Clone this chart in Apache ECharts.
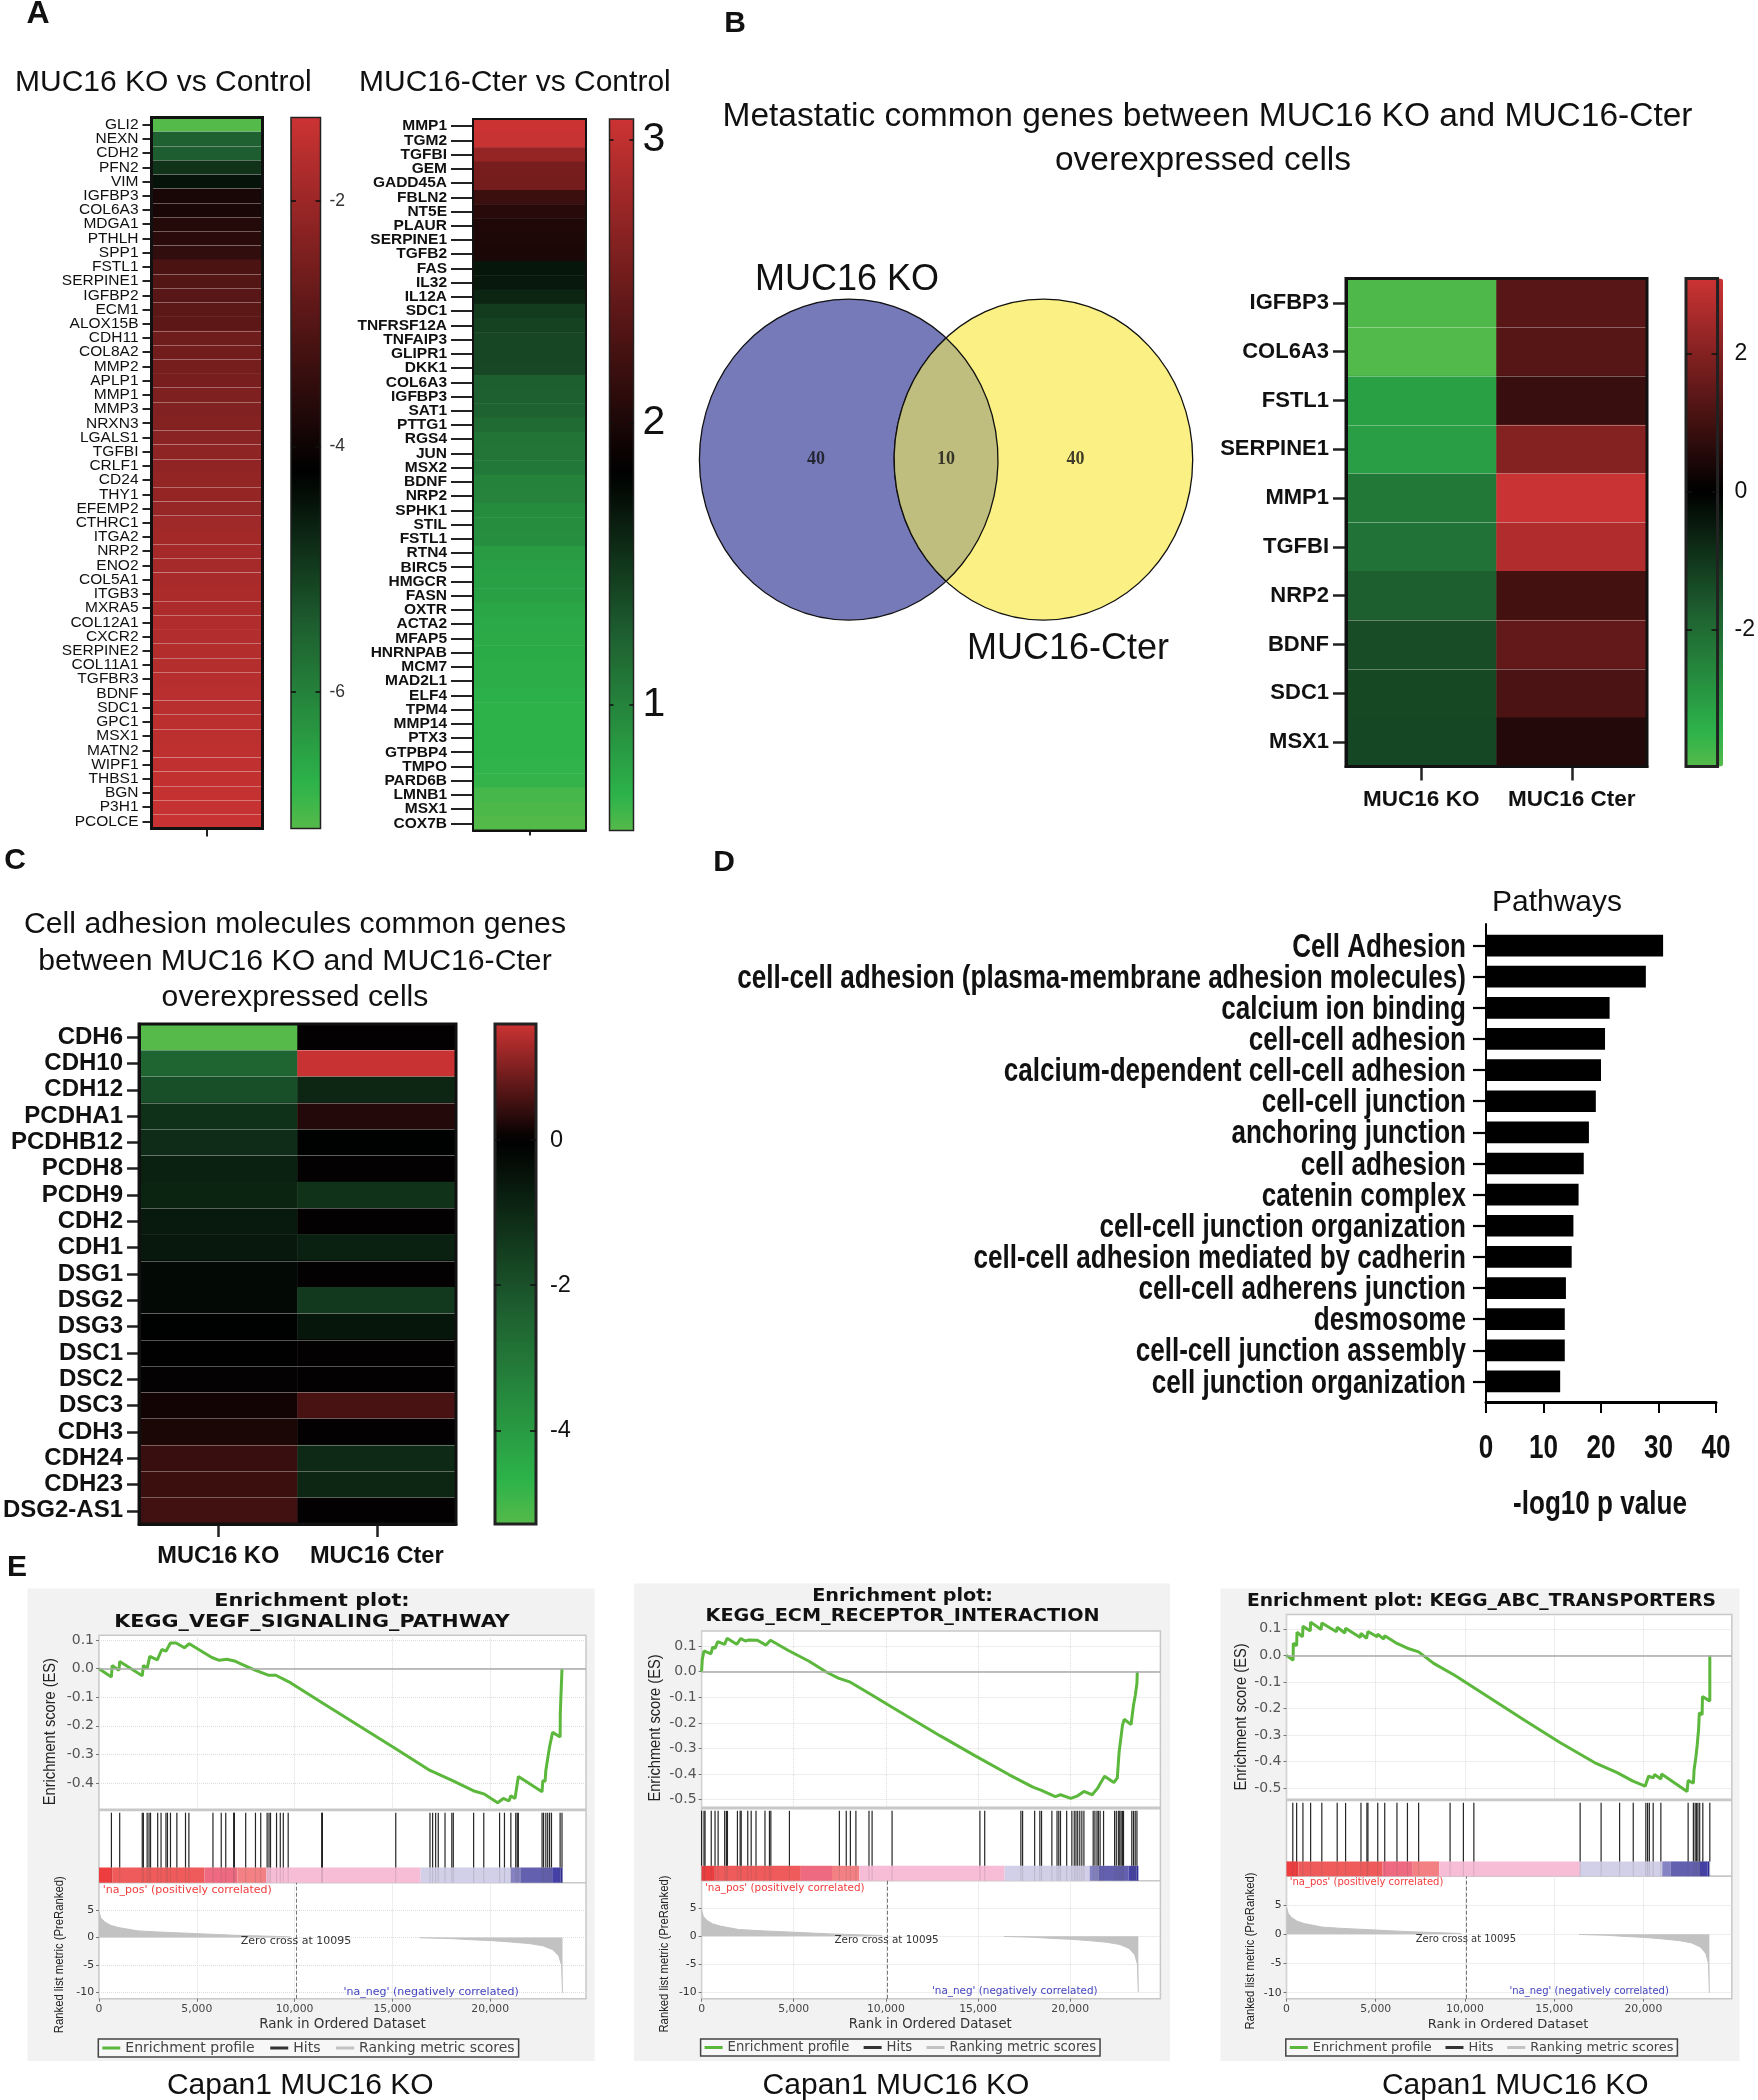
<!DOCTYPE html>
<html><head><meta charset="utf-8">
<style>html,body{margin:0;padding:0;background:#fff}#c{width:1758px;height:2100px}</style>
<script src="https://cdn.jsdelivr.net/npm/echarts@6/dist/echarts.min.js"></script>
</head><body><div id="c"></div>
<script>
// ---------- DATA ----------
const a1Genes=['GLI2','NEXN','CDH2','PFN2','VIM','IGFBP3','COL6A3','MDGA1','PTHLH','SPP1','FSTL1','SERPINE1','IGFBP2','ECM1','ALOX15B','CDH11','COL8A2','MMP2','APLP1','MMP1','MMP3','NRXN3','LGALS1','TGFBI','CRLF1','CD24','THY1','EFEMP2','CTHRC1','ITGA2','NRP2','ENO2','COL5A1','ITGB3','MXRA5','COL12A1','CXCR2','SERPINE2','COL11A1','TGFBR3','BDNF','SDC1','GPC1','MSX1','MATN2','WIPF1','THBS1','BGN','P3H1','PCOLCE'];
const a1Values=[-7.1,-5.5,-5.45,-4.88,-4.46,-3.85,-3.85,-3.7,-3.6,-3.5,-3.13,-3.02,-2.96,-2.9,-2.88,-2.64,-2.59,-2.53,-2.5,-2.41,-2.36,-2.33,-2.24,-2.18,-2.16,-2.13,-2.1,-2.07,-1.95,-1.9,-1.87,-1.84,-1.81,-1.78,-1.75,-1.69,-1.68,-1.67,-1.64,-1.61,-1.59,-1.58,-1.56,-1.55,-1.52,-1.49,-1.46,-1.44,-1.41,-1.38];
const a2Genes=['MMP1','TGM2','TGFBI','GEM','GADD45A','FBLN2','NT5E','PLAUR','SERPINE1','TGFB2','FAS','IL32','IL12A','SDC1','TNFRSF12A','TNFAIP3','GLIPR1','DKK1','COL6A3','IGFBP3','SAT1','PTTG1','RGS4','JUN','MSX2','BDNF','NRP2','SPHK1','STIL','FSTL1','RTN4','BIRC5','HMGCR','FASN','OXTR','ACTA2','MFAP5','HNRNPAB','MCM7','MAD2L1','ELF4','TPM4','MMP14','PTX3','GTPBP4','TMPO','PARD6B','LMNB1','MSX1','COX7B'];
const a2Values=[3.07,3.04,2.74,2.55,2.54,2.19,2.07,2.02,2.01,2.0,1.686,1.68,1.6,1.47,1.42,1.4,1.4,1.39,1.25,1.24,1.23,1.17,1.11,1.1,1.08,1.01,1.0,.95,.94,.92,.83,.82,.81,.81,.76,.75,.74,.73,.72,.72,.7,.69,.69,.68,.68,.67,.66,.6,.58,.56];
const conditions=['MUC16 KO','MUC16 Cter'];
const bGenes=['IGFBP3','COL6A3','FSTL1','SERPINE1','MMP1','TGFBI','NRP2','BDNF','SDC1','MSX1'];
const bKO=[-3.9,-3.95,-3.1,-3.07,-2.26,-2.13,-1.75,-1.4,-1.32,-1.3];
const bCter=[1.33,1.3,.85,2.0,3.05,2.68,1.03,1.5,1.15,.53];
const cGenes=['CDH6','CDH10','CDH12','PCDHA1','PCDHB12','PCDH8','PCDH9','CDH2','CDH1','DSG1','DSG2','DSG3','DSC1','DSC2','DSC3','CDH3','CDH24','CDH23','DSG2-AS1'];
const cKO=[-5.29,-2.5,-1.95,-1.2,-1.1,-.8,-.9,-.65,-.6,-.25,-.25,-.05,-.02,.02,.14,.22,.45,.47,.51];
const cCter=[0,1.58,-.95,.28,-.03,0,-1.25,0,-.8,0,-1.4,-.55,0,0,.57,0,-1.05,-.95,0];
const vennSets=['MUC16 KO','MUC16-Cter'];
const vennCounts=[40,10,40];
const pathways=['Cell Adhesion','cell-cell adhesion (plasma-membrane adhesion molecules)','calcium ion binding','cell-cell adhesion','calcium-dependent cell-cell adhesion','cell-cell junction','anchoring junction','cell adhesion','catenin complex','cell-cell junction organization','cell-cell adhesion mediated by cadherin','cell-cell adherens junction','desmosome','cell-cell junction assembly','cell junction organization'];
const pathwayP=[30.8,27.8,21.5,20.7,20.0,19.1,17.9,17.0,16.1,15.2,14.9,13.9,13.7,13.7,12.9];
const pTicks=[0,10,20,30,40];
const rankPos=[[0,4.6],[100,3.5],[300,2.8],[600,2.2],[1000,1.8],[2000,1.2],[3000,1.0],[4000,.85],[5000,.7],[6000,.55],[7000,.4],[8000,.3],[9000,.2],[9800,.12]];
const rankNeg=[[16400,-.05],[18000,-.2],[19000,-.4],[20000,-.55],[21000,-.8],[22000,-1.1],[22700,-1.5],[23200,-2.2],[23500,-3.3],[23650,-5],[23700,-10]];
const bandEnds=[0,673,5385,7077,8558,16442,21058,21540,23173,23600,23700];
const es1=[[0,0],[635,-.029],[673,.011],[1019,-.006],[1058,.025],[2212,-.025],[2269,.011],[2462,.001],[2596,.043],[2981,.031],[3212,.067],[3423,.061],[3654,.09],[3942,.09],[4365,.073],[4615,.087],[5769,.039],[6154,.029],[6538,.033],[6923,.027],[7308,.015],[7981,-.005],[8654,-.023],[9038,-.023],[9808,-.05],[11346,-.117],[13269,-.199],[15192,-.281],[16923,-.356],[18077,-.392],[19135,-.427],[19712,-.439],[20385,-.469],[20673,-.454],[20962,-.463],[21058,-.445],[21269,-.454],[21442,-.377],[22654,-.431],[22692,-.392],[22808,-.394],[22846,-.356],[22942,-.314],[23038,-.273],[23192,-.223],[23577,-.239],[23586,-.154],[23673,-.154],[23673,0]];
const hits1=[635,1058,2212,2269,2462,2558,2635,3000,3173,3423,3500,3654,3981,4423,4596,5827,6250,6481,6885,6923,7500,8000,8269,8596,8692,8769,9077,9269,9423,9673,11385,11423,15173,16923,17058,17212,17346,17692,18039,18115,19154,19673,20481,20731,21058,21308,21385,21442,22654,22731,22846,22942,23038,23135,23577,23673];
const es2=[[0,0],[37,.048],[131,.081],[505,.07],[598,.096],[729,.091],[878,.118],[1252,.107],[1383,.131],[1906,.107],[2131,.13],[2374,.12],[2561,.124],[3028,.123],[3495,.104],[3738,.123],[4710,.083],[5831,.041],[6766,-.001],[7420,-.025],[8074,-.041],[9195,-.089],[10317,-.138],[12933,-.25],[14802,-.327],[16671,-.402],[17980,-.451],[18447,-.464],[19195,-.488],[19475,-.481],[20036,-.495],[20409,-.485],[20746,-.468],[21194,-.481],[21494,-.455],[21867,-.409],[22372,-.433],[22559,-.415],[22652,-.317],[22839,-.21],[22932,-.186],[23306,-.207],[23437,-.131],[23530,-.094],[23624,-.045],[23643,.001]];
const hits2=[0,131,187,523,729,897,1252,1346,1402,1944,2093,2149,2504,2691,2953,3439,3682,3757,4766,7476,7850,8074,8373,9083,9252,10336,15102,15363,17326,17419,18073,18354,18447,19008,19288,19382,19475,19811,20092,20222,20316,20409,20522,20634,20746,21250,21344,21456,21531,21625,21812,22410,22503,22615,22690,22764,22839,22895,23344,23437,23530,23624];
const es3=[[0,0],[372,-.018],[382,.046],[568,.036],[588,.087],[901,.07],[921,.11],[1332,.092],[1352,.125],[1939,.097],[1979,.122],[2801,.089],[2841,.106],[3272,.084],[3311,.102],[4133,.067],[4173,.083],[4486,.064],[4564,.09],[5074,.07],[5113,.08],[5446,.061],[5505,.074],[6190,.045],[6288,.052],[6778,.027],[7405,.013],[8247,-.03],[9423,-.075],[11382,-.159],[13341,-.244],[15300,-.327],[17259,-.403],[18532,-.441],[19414,-.473],[20099,-.492],[20295,-.454],[20550,-.461],[20628,-.448],[20981,-.465],[21020,-.446],[22450,-.512],[22509,-.47],[22803,-.481],[22842,-.431],[22920,-.431],[22940,-.384],[23018,-.337],[23097,-.276],[23136,-.216],[23293,-.223],[23312,-.155],[23724,-.172],[23724,0]];
const hits3=[353,568,921,1352,1979,2841,3311,4173,4506,4564,5113,5505,6190,6778,7405,9168,9913,10500,16456,17631,18669,19433,20139,20237,20335,20550,20981,22509,22803,22901,22979,23058,23156,23332,23724];
const rankTicks=[0,5000,10000,15000,20000];
const esTicks1=[.1,0,-.1,-.2,-.3,-.4];
const esTicks2=[.1,0,-.1,-.2,-.3,-.4,-.5];
const metricTicks=[5,0,-5,-10];
const zeroCross=10095;

// ---------- STYLES / LAYOUT ----------
const SANS='"Liberation Sans",Arial,sans-serif', DEJA='"DejaVu Sans",sans-serif', SERIF='"Liberation Serif",serif';
const bandColors=['#ee3d3f','#ef5b5b','#ee6a80','#f38083','#f7bcd6','#d2cfe8','#8683c4','#6360b0','#4440a5','#2e2a96'];
const grid=[],xAxis=[],yAxis=[],series=[],visualMap=[],legend=[],graphic=[];
// adds a grid with one x and one y axis; returns the series' axis indices
function cart(g,x,y){
  const gridIndex=grid.length,xAxisIndex=xAxis.length,yAxisIndex=yAxis.length;
  grid.push(g);xAxis.push({gridIndex,...x});yAxis.push({gridIndex,...y});
  return {xAxisIndex,yAxisIndex,gridIndex};
}
function T(x,y,text,size,opt={}){
  graphic.push({type:'text',x,y:y+(opt.rot?0:size*.085),rotation:opt.rot||0,scaleX:opt.sx||1,z:100,silent:true,style:{text,fill:opt.color||'#111',
    font:`${opt.weight||'normal'} ${size}px ${opt.family||SANS}`,align:opt.align||'center',verticalAlign:'middle'}});
}
function ramp(min,g,black,max){
  const stops=[[min,[85,186,74]],[g,[45,179,74]],[(g+black)/2,[30,95,48]],[black,[0,0,0]],[max,[204,51,51]]],out=[];
  for(let i=0;i<=80;i++){const v=min+(max-min)*i/80;let k=0;while(k<stops.length-2&&v>stops[k+1][0])k++;
    const t=(v-stops[k][0])/(stops[k+1][0]-stops[k][0]);
    const c=stops[k][1].map((a,j)=>Math.round(a+(stops[k+1][1][j]-a)*t));out.push(`rgb(${c})`);}
  return out;
}
function heat(o){
  const ax=cart({left:o.left,top:o.top,width:o.w,height:o.h,show:true,z:5,backgroundColor:'transparent',borderColor:'#111',borderWidth:o.bw},
   {type:'category',data:o.cols,position:'bottom',axisLine:{show:true,lineStyle:{color:'#111',width:o.bw}},
    axisTick:{show:true,alignWithLabel:true,length:o.xTick,lineStyle:{color:'#222',width:o.tickW}},
    axisLabel:o.xFont?{show:true,interval:0,margin:o.xMargin,color:'#111',fontSize:o.xFont,fontWeight:'bold',fontFamily:SANS}:{show:false},splitLine:{show:false}},
   {type:'category',data:o.rows,inverse:true,z:3,axisLine:{show:true,lineStyle:{color:'#111',width:o.bw}},
    axisTick:{show:true,alignWithLabel:true,length:o.yTick,lineStyle:{color:'#222',width:o.tickW}},
    axisLabel:{interval:0,margin:o.yTick+o.yMargin,color:'#111',fontSize:o.yFont,fontWeight:o.yWeight,fontFamily:SANS},
    splitLine:{show:!!o.lines,interval:(i)=>o.lines?o.lines.includes(i-1):false,lineStyle:{color:'rgba(255,255,255,.33)',width:1}}});
  const data=[];o.values.forEach((col,c)=>col.forEach((v,r)=>data.push([c,r,v])));
  const si=series.length;
  series.push({type:'heatmap',xAxisIndex:ax.xAxisIndex,yAxisIndex:ax.yAxisIndex,data,z:1,silent:true,emphasis:{disabled:true}});
  // colour bar: the visualMap bar, framed by an axis pair
  const b=o.bar;
  visualMap.push({type:'continuous',seriesIndex:si,dimension:2,min:b.min,max:b.max,inRange:{color:ramp(b.min,b.g,b.black,b.max)},
    show:true,calculable:false,hoverLink:false,orient:'vertical',left:b.left,top:o.top,itemWidth:b.w,itemHeight:o.h,padding:0,text:null,showLabel:false});
  const tick={show:true,inside:true,length:b.tick,customValues:b.ticks,lineStyle:{color:'#111',width:1.6}};
  const bx=cart({left:b.left,top:o.top,width:b.w,height:o.h,show:true,z:5,backgroundColor:'transparent',borderColor:b.border||'#222',borderWidth:b.bw},
    {type:'value',min:0,max:1,show:false},
    {type:'value',min:b.min,max:b.max,position:'left',z:6,axisLine:{show:false},axisTick:tick,axisLabel:{show:false,customValues:b.ticks},splitLine:{show:false}});
  yAxis.push({gridIndex:bx.gridIndex,type:'value',min:b.min,max:b.max,position:'right',z:6,axisLine:{show:false},axisTick:tick,
    axisLabel:{show:true,customValues:b.ticks,margin:b.margin,color:b.color||'#111',fontSize:b.font,fontFamily:b.family||SANS},splitLine:{show:false}});
}

// ---------- A ----------
heat({left:151.5,top:117.5,w:111,h:711,bw:3,cols:['MUC16 KO'],rows:a1Genes,values:[a1Values],xTick:8,yTick:9,tickW:2,yMargin:4,yFont:15.5,yWeight:'normal',
  lines:[0,1,2,3,4,5,6,7,8,10,11,12,14,15,16,18,19,21,22,23,25,26,27,29,30,31,33,34,36,37,38,40,41,42,44,45,46,47,48],
  bar:{left:291,w:29.5,min:-7.11,max:-1.32,g:-6.75,black:-4.2,ticks:[-2,-4,-6],tick:5,bw:1.5,margin:9,font:17.5,color:'#333'}});
heat({left:473,top:119,w:113,h:711.5,bw:2,cols:['MUC16-Cter'],rows:a2Genes,values:[a2Values],xTick:5,yTick:22,tickW:2,yMargin:4,yFont:15.5,yWeight:'bold',
  bar:{left:609.5,w:24,min:.555,max:3.074,g:.675,black:1.824,ticks:[3,2,1],tick:4,bw:1.5,margin:9,font:41}});
T(15,80,'MUC16 KO vs Control',30,{align:'left'});
T(359,80,'MUC16-Cter vs Control',30,{align:'left'});
T(38,11,'A',32,{weight:'bold'});

// ---------- B ----------
T(735,21,'B',30,{weight:'bold'});
T(1207.5,114,'Metastatic common genes between MUC16 KO and MUC16-Cter',33.5);
T(1203,158,'overexpressed cells',33.5);
T(847,277,vennSets[0],36);
T(1068,646,vennSets[1],36);
{
  const cy=459.6,rx=149.3,ry=160.5,cxA=848.7,cxB=1043.4;
  const venn=[[cxA,'#767ab8'],[cxB,'#fbf084']];
  const ax=cart({left:690,top:290,width:520,height:340,show:false},
    {type:'value',min:690,max:1210,show:false},{type:'value',min:290,max:630,inverse:true,show:false});
  series.push({type:'custom',name:'Venn',xAxisIndex:ax.xAxisIndex,yAxisIndex:ax.yAxisIndex,coordinateSystem:'cartesian2d',silent:true,clip:false,z:2,
    data:vennCounts.map((n,i)=>[[816,946,1075.6][i],cy,n]),
    encode:{x:0,y:1},
    renderItem(p,api){
      const kids=[];const at=(x,y)=>api.coord([x,y]);
      if(p.dataIndex===0){
        venn.forEach(([cx,col])=>{const c=at(cx,cy);kids.push({type:'ellipse',shape:{cx:c[0],cy:c[1],rx,ry},style:{fill:col,stroke:'#111',lineWidth:1.3}});});
        const mx=(cxA+cxB)/2,dy=ry*Math.sqrt(1-Math.pow((mx-cxA)/rx,2));
        const t=at(mx,cy-dy),b=at(mx,cy+dy);
        kids.push({type:'path',shape:{pathData:`M${t[0]} ${t[1]}A${rx} ${ry} 0 0 1 ${b[0]} ${b[1]}A${rx} ${ry} 0 0 1 ${t[0]} ${t[1]}Z`},style:{fill:'#bfbe7e',stroke:'#111',lineWidth:1.3}});
      }
      return {type:'group',children:kids};
    }});
  series.push({type:'scatter',name:'Venn counts',xAxisIndex:ax.xAxisIndex,yAxisIndex:ax.yAxisIndex,symbolSize:0,silent:true,z:4,
    data:vennCounts.map((n,i)=>[[816,946,1075.6][i],cy,n]),
    label:{show:true,position:'inside',formatter:p=>String(p.value[2]),fontFamily:SERIF,fontWeight:'bold',fontSize:18,color:'#111'}});
}
heat({left:1346,top:278.5,w:301,h:488,bw:3,cols:conditions,rows:bGenes,values:[bKO,bCter],xTick:14,yTick:13,tickW:2.5,yMargin:4,yFont:22,yWeight:'bold',xFont:22.5,xMargin:22,
  lines:[0,1,2,3,4,6,7],
  bar:{left:1686,w:37,min:-3.99,max:3.09,g:-3.49,black:0,ticks:[2,0,-2],tick:6,bw:3,margin:17,font:23}});

// ---------- C ----------
T(15,858,'C',30,{weight:'bold'});
T(295,922,'Cell adhesion molecules common genes',30.2);
T(295,959,'between MUC16 KO and MUC16-Cter',30.2);
T(295,995,'overexpressed cells',30.2);
heat({left:137,top:1024,w:319,h:500,bw:3,cols:conditions,rows:cGenes,values:[cKO,cCter],xTick:13,yTick:12,tickW:2.5,yMargin:4,yFont:24,yWeight:'bold',xFont:23.6,xMargin:20,
  lines:[0,1,2,3,4,6,8,10,11,12,13,14,15,16,17],
  bar:{left:495,w:41,min:-5.29,max:1.6,g:-4.69,black:0,ticks:[0,-2,-4],tick:6,bw:3,margin:14,font:23.5}});

// ---------- D ----------
T(724,860,'D',30,{weight:'bold'});
T(1557,900,'Pathways',30);
T(1600,1502,'-log10 p value',33,{weight:'bold',sx:.79});
{
  const condensed={font:`bold 33px ${SANS}`,fill:'#111',verticalAlign:'middle'};
  const f=cart({left:1486,top:924,width:230,height:478,show:false},
    {type:'value',min:0,max:40,interval:10,axisLine:{show:true,onZero:false,lineStyle:{color:'#000',width:3}},
     axisTick:{show:true,length:11,lineStyle:{color:'#000',width:2}},splitLine:{show:false},axisLabel:{show:false}},
    {type:'value',min:0,max:1,axisLine:{show:true,onZero:false,lineStyle:{color:'#000',width:2}},axisTick:{show:false},axisLabel:{show:false},splitLine:{show:false}});
  series.push({type:'custom',name:'x tick labels',xAxisIndex:f.xAxisIndex,yAxisIndex:f.yAxisIndex,silent:true,clip:false,
    data:pTicks.map(v=>[v,0]),encode:{x:0,y:1},
    renderItem(p,api){const c=api.coord([api.value(0),0]);
      return {type:'text',x:c[0],y:c[1]+47,scaleX:.79,style:{...condensed,text:String(api.value(0)),align:'center'}};}});
  const ax=cart({left:1486,top:930,width:230,height:467,show:false},
    {type:'value',min:0,max:40,show:false},
    {type:'category',data:pathways,inverse:true,axisLine:{show:false},
     axisTick:{show:true,alignWithLabel:true,length:13,lineStyle:{color:'#000',width:2.2}},axisLabel:{show:false}});
  series.push({type:'bar',name:'-log10 p value',xAxisIndex:ax.xAxisIndex,yAxisIndex:ax.yAxisIndex,data:pathwayP,barWidth:21.7,silent:true,itemStyle:{color:'#000'}});
  series.push({type:'custom',name:'pathway labels',xAxisIndex:ax.xAxisIndex,yAxisIndex:ax.yAxisIndex,silent:true,clip:false,
    data:pathways.map((n,i)=>[0,i]),encode:{x:0,y:1},
    renderItem(p,api){const c=api.coord([0,p.dataIndex]);
      return {type:'text',x:c[0]-20,y:c[1]+2,scaleX:.79,style:{...condensed,text:pathways[p.dataIndex],align:'right'}};}});
}

// ---------- E ----------
T(17,1565,'E',30,{weight:'bold'});
function gsea(o){
  graphic.push({type:'rect',z:-10,silent:true,shape:{x:o.bg[0],y:o.bg[1],width:o.bg[2]-o.bg[0],height:o.bg[3]-o.bg[1]},style:{fill:'#f2f2f2'}});
  o.title.forEach(([t,x,y])=>T(x,y,t,17,{family:DEJA,weight:'bold',sx:o.tSx}));
  const L=o.x0,W=o.x1-o.x0,gridLn={show:true,lineStyle:{color:'#dcdcdc',type:'dotted',width:1}};
  const box={show:true,backgroundColor:'#fff',borderColor:'#c8c8c8',borderWidth:1.5,left:L,width:W};
  const hiddenX=(split)=>({type:'value',min:0,max:o.xMax,axisLine:{show:false},axisTick:{show:false,customValues:rankTicks},axisLabel:{show:false,customValues:rankTicks},splitLine:split?gridLn:{show:false}});
  // enrichment profile
  let ax=cart({...box,top:o.es[0],height:o.es[1]-o.es[0]},hiddenX(true),
    {type:'value',min:o.esMin,max:o.esMax,axisLine:{show:false},axisTick:{show:true,customValues:o.esTicks,length:3,lineStyle:{color:'#777'}},
    axisLabel:{customValues:o.esTicks,margin:5,color:'#555',fontSize:14,fontFamily:DEJA,formatter:v=>v.toFixed(1)},splitLine:gridLn});
  series.push({type:'line',name:'Enrichment profile',xAxisIndex:ax.xAxisIndex,yAxisIndex:ax.yAxisIndex,data:o.esData,showSymbol:false,symbol:'none',silent:true,z:3,
    itemStyle:{color:'#5cb83c'},lineStyle:{color:'#5cb83c',width:3},
    markLine:{silent:true,symbol:'none',label:{show:false},lineStyle:{color:'#aaa',type:'solid',width:1.5},data:[{yAxis:0}]}});
  // hits + colour band
  const hTop=o.hits[0],hBot=o.hits[2],frac=(o.hits[2]-o.hits[1])/(hBot-hTop);
  ax=cart({...box,top:hTop,height:hBot-hTop},hiddenX(false),{type:'value',min:0,max:1,show:false});
  series.push({type:'custom',name:'Ranking band',xAxisIndex:ax.xAxisIndex,yAxisIndex:ax.yAxisIndex,silent:true,z:2,
    data:bandColors.map((c,i)=>[bandEnds[i],bandEnds[i+1],i]),encode:{x:[0,1]},
    renderItem(p,api){const a=api.coord([api.value(0),frac]),b=api.coord([api.value(1),0]);
      return {type:'rect',shape:{x:a[0],y:a[1],width:b[0]-a[0],height:b[1]-a[1]},style:{fill:bandColors[api.value(2)]}};}});
  series.push({type:'custom',name:'Hits',xAxisIndex:ax.xAxisIndex,yAxisIndex:ax.yAxisIndex,silent:true,z:3,itemStyle:{color:'#333'},
    data:o.hitData.map(r=>[r]),encode:{x:0},
    renderItem(p,api){const x=api.value(0),a=api.coord([x,0]),b=api.coord([x,frac]),c=api.coord([x,.97]);
      return {type:'group',children:[
        {type:'line',shape:{x1:b[0],y1:b[1],x2:c[0],y2:c[1]},style:{stroke:'#1a1a1a',lineWidth:1.2,opacity:.95}},
        {type:'line',shape:{x1:a[0],y1:a[1],x2:b[0],y2:b[1]},style:{stroke:'#555',lineWidth:1,opacity:.18}}]};}});
  // ranked metric
  ax=cart({...box,top:o.rank[0],height:o.rank[1]-o.rank[0]},
    {type:'value',min:0,max:o.xMax,position:'bottom',axisLine:{show:false,onZero:false},axisTick:{show:true,customValues:rankTicks,length:3,lineStyle:{color:'#777'}},
    axisLabel:{customValues:rankTicks,margin:5,color:'#444',fontSize:10.8,fontFamily:DEJA,formatter:v=>v.toLocaleString('en-US')},splitLine:gridLn},
    {type:'value',min:o.mMin,max:o.mMax,axisLine:{show:false,onZero:false},axisTick:{show:true,customValues:metricTicks,length:3,lineStyle:{color:'#777'}},
    axisLabel:{customValues:metricTicks,margin:5,color:'#333',fontSize:10.8,fontFamily:DEJA},splitLine:gridLn});
  const area={type:'line',name:'Ranking metric scores',xAxisIndex:ax.xAxisIndex,yAxisIndex:ax.yAxisIndex,showSymbol:false,symbol:'none',silent:true,z:2,
    itemStyle:{color:'#c2c2c2'},lineStyle:{color:'#c2c2c2',width:1},areaStyle:{color:'#c2c2c2',opacity:1,origin:0}};
  series.push({...area,data:rankPos,markLine:{silent:true,symbol:'none',label:{show:false},lineStyle:{color:'#777',type:'dashed',width:1},data:[{xAxis:zeroCross}]}});
  series.push({...area,data:rankNeg});
  // text
  T(o.esT[0],o.esT[1],'Enrichment score (ES)',17,{rot:Math.PI/2,color:'#222',sx:.86});
  T(o.rkT[0],o.rkT[1],'Ranked list metric (PreRanked)',13,{rot:Math.PI/2,color:'#222',sx:.87});
  T(o.xT[0],o.xT[1],'Rank in Ordered Dataset',o.xF,{family:DEJA,color:'#333'});
  T(o.zero[0],o.zero[1],'Zero cross at 10095',o.naF,{family:DEJA,color:'#333'});
  T(o.pos[0],o.pos[1],"'na_pos' (positively correlated)",o.naF,{family:DEJA,color:'#f33c3c',align:'left'});
  T(o.neg[0],o.neg[1],"'na_neg' (negatively correlated)",o.naF,{family:DEJA,color:'#4444c0',align:'left'});
  T(o.cap,2083,'Capan1 MUC16 KO',30);
  legend.push({show:true,left:o.leg[0],top:2039,padding:[2,4,2,4],itemGap:o.legGap,itemWidth:18,itemHeight:3,selectedMode:false,
    backgroundColor:'#f7f7f7',borderColor:'#444',borderWidth:1.5,textStyle:{fontSize:o.legF,fontFamily:DEJA,color:'#444'},
    data:[{name:'Enrichment profile',icon:'rect'},{name:'Hits',icon:'rect'},{name:'Ranking metric scores',icon:'rect'}]});
}
gsea({bg:[27.5,1588.6,594.5,2061],title:[['Enrichment plot:',312,1600],['KEGG_VEGF_SIGNALING_PATHWAY',312,1621]],tSx:1.22,
  x0:99,x1:586,xMax:24900,es:[1635.2,1809.3],esMin:-.492,esMax:.117,esTicks:esTicks1,esData:es1,hitData:hits1,hits:[1810.5,1867.5,1882.7],
  rank:[1882.7,1998.7],mMin:-11.09,mMax:9.93,esT:[50,1731.6],rkT:[59.5,1954.7],xT:[342.5,2023.7],xF:13.5,zero:[296,1940.7],pos:[102.8,1888.8],neg:[343.5,1991.6],naF:11,cap:300.3,leg:[98.3,523.4],legGap:15.7,legF:14});
gsea({bg:[634,1583.5,1170,2061],title:[['Enrichment plot:',902.6,1594.7],['KEGG_ECM_RECEPTOR_INTERACTION',902.6,1615.6]],tSx:1.13,
  x0:701.6,x1:1160.4,xMax:24897,es:[1630.9,1807.3],esMin:-.53,esMax:.1595,esTicks:esTicks2,esData:es2,hitData:hits2,hits:[1808.7,1865.8,1880.7],
  rank:[1880.7,1998.7],mMin:-11.19,mMax:9.92,esT:[655,1728],rkT:[664.4,1954],xT:[930.3,2023],xF:13.2,zero:[886.6,1939.8],pos:[705,1887],neg:[932,1990.9],naF:10.4,cap:896,leg:[700.6,1101.8],legGap:14.3,legF:13.2});
gsea({bg:[1220.5,1588.6,1739.5,2061],title:[['Enrichment plot: KEGG_ABC_TRANSPORTERS',1481.5,1599.7]],tSx:1.1,
  x0:1286.5,x1:1731.8,xMax:24956,es:[1614.6,1799.2],esMin:-.541,esMax:.1534,esTicks:esTicks2,esData:es3,hitData:hits3,hits:[1800.6,1861.4,1876.3],
  rank:[1876.3,1998.7],mMin:-11.02,mMax:9.87,esT:[1241.5,1717],rkT:[1250.2,1951],xT:[1508,2023.7],xF:13,zero:[1465.9,1938.2],pos:[1289.7,1882],neg:[1509.5,1990.9],naF:10,cap:1515.3,leg:[1285.8,1674.9],legGap:13.7,legF:12.9});

const chart=echarts.init(document.getElementById('c'),null,{width:1758,height:2100,renderer:'canvas'});
chart.setOption({animation:false,backgroundColor:'#fff',tooltip:{show:false},grid,xAxis,yAxis,series,visualMap,legend,graphic:{elements:graphic}});
</script></body></html>
